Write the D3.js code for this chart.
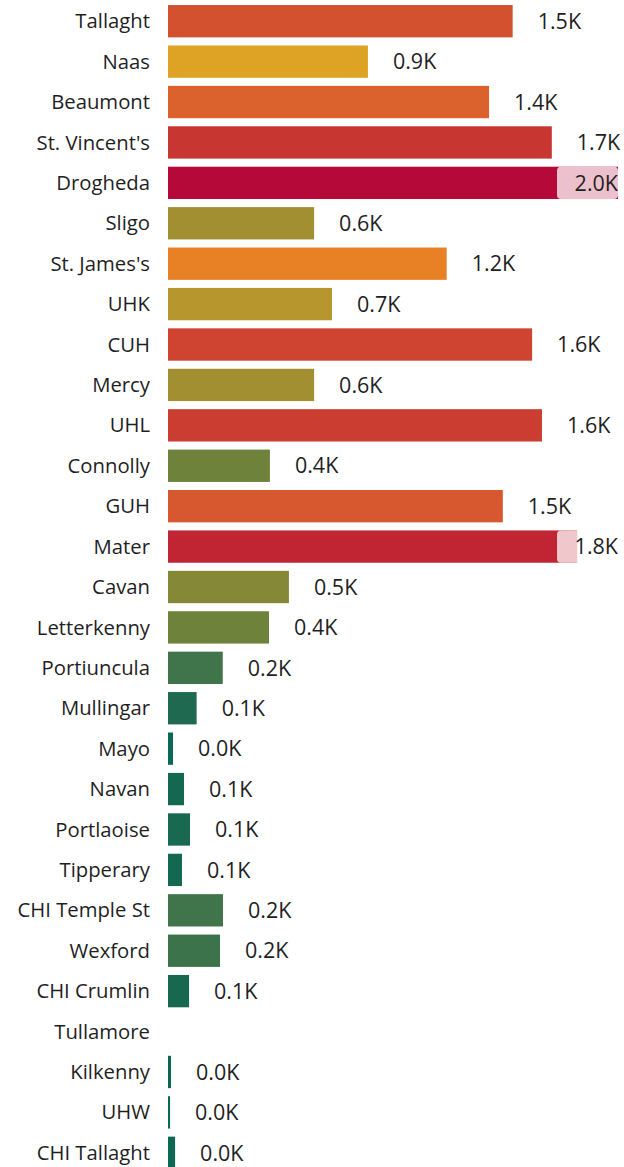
<!DOCTYPE html>
<html>
<head>
<meta charset="utf-8">
<script src="https://cdn.jsdelivr.net/npm/d3@7"></script>
<style>
  body { margin: 0; background: #fff; }
  svg { display: block; }
  text { font-family: "Open Sans", sans-serif; fill: #1f1f1f; }
</style>
</head>
<body>
<div id="chart"></div>
<script>
const hospitals = ['Tallaght', 'Naas', 'Beaumont', "St. Vincent's", 'Drogheda', 'Sligo', "St. James's",
  'UHK', 'CUH', 'Mercy', 'UHL', 'Connolly', 'GUH', 'Mater', 'Cavan', 'Letterkenny', 'Portiuncula',
  'Mullingar', 'Mayo', 'Navan', 'Portlaoise', 'Tipperary', 'CHI Temple St', 'Wexford', 'CHI Crumlin',
  'Tullamore', 'Kilkenny', 'UHW', 'CHI Tallaght']

const counts = [1505, 873, 1402, 1676, 1965, 638, 1217,
  716, 1590, 638, 1633, 445, 1462, 1787, 528, 441, 239,
  125, 22, 70, 96, 61, 240, 227, 92,
  null, 13, 9, 31]

// colour stops (value -> fill)
const colourStops = [0, 120, 240, 445, 640, 873, 1217, 1500, 1790, 1965]
const colourValues = ['#086655', '#1d694f', '#40744a', '#6f823b', '#a38f31', '#dea324',
  '#e88126', '#d4522f', '#c12433', '#b5093a']

const w = 624
const h = 1167
const left = 168
const right = 618

const data = hospitals.map((d, i) => ({ name: d, value: counts[i] }))

const svg = d3.select('#chart')
  .append('svg')
  .attr('width', w)
  .attr('height', h)

const xScale = d3.scaleLinear()
  .domain([0, d3.max(counts)])
  .range([left, right])

const yScale = d3.scaleBand()
  .domain(hospitals)
  .range([1, 1173])
  .paddingInner(0.2)
  .paddingOuter(0.1)

const colour = d3.scaleLinear()
  .domain(colourStops)
  .range(colourValues)

const fmt = v => (v / 1000).toFixed(1) + 'K'

// category labels
svg.append('g')
  .selectAll('text')
  .data(data)
  .enter()
  .append('text')
    .attr('x', left - 18)
    .attr('y', d => yScale(d.name) + yScale.bandwidth() / 2)
    .attr('dy', '0.35em')
    .attr('text-anchor', 'end')
    .style('font-size', '20.3px')
    .text(d => d.name)

const withValue = data.filter(d => d.value != null)

svg.append('g')
  .selectAll('rect')
  .data(withValue)
  .enter()
  .append('rect')
    .attr('x', xScale(0))
    .attr('y', d => yScale(d.name))
    .attr('width', d => xScale(d.value) - xScale(0))
    .attr('height', yScale.bandwidth())
    .attr('fill', d => colour(d.value))

// value labels, pulled back inside with a backing box when they would run off the edge
const labels = svg.append('g')

withValue.forEach(d => {
  const cy = yScale(d.name) + yScale.bandwidth() / 2
  const t = labels.append('text')
    .attr('x', xScale(d.value) + 25)
    .attr('y', cy)
    .attr('dy', '0.36em')
    .style('font-size', '21.5px')
    .text(fmt(d.value))
  const tw = t.node().getComputedTextLength()
  if (xScale(d.value) + 25 + tw > w) {
    labels.insert('rect', 'text')
      .attr('x', right - 61)
      .attr('y', yScale(d.name))
      .attr('width', 61)
      .attr('height', yScale.bandwidth())
      .attr('rx', 4)
      .attr('fill', '#fff')
      .attr('fill-opacity', 0.75)
    t.attr('x', right)
      .attr('text-anchor', 'end')
    t.raise()
  }
})
</script>
</body>
</html>
